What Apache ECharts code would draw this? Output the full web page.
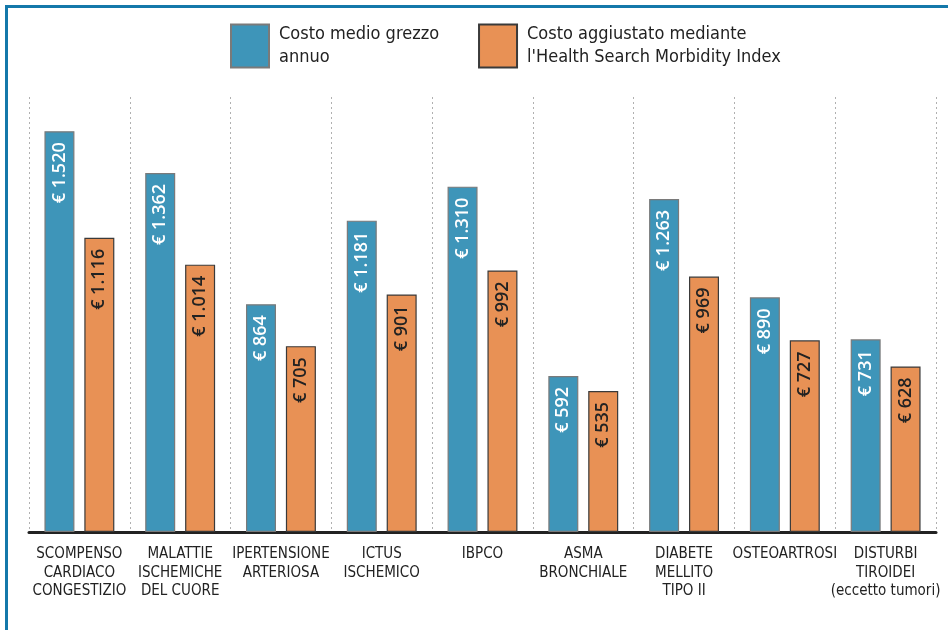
<!DOCTYPE html>
<html>
<head>
<meta charset="utf-8">
<script src="https://cdn.jsdelivr.net/npm/echarts@6/dist/echarts.min.js"></script>
<style>html,body{margin:0;padding:0;background:#fff}#c{width:948px;height:630px}</style>
</head>
<body>
<div id="c"></div>
<script>
const categories = ['SCOMPENSO\nCARDIACO\nCONGESTIZIO', 'MALATTIE\nISCHEMICHE\nDEL CUORE', 'IPERTENSIONE\nARTERIOSA', 'ICTUS\nISCHEMICO', 'IBPCO', 'ASMA\nBRONCHIALE', 'DIABETE\nMELLITO\nTIPO II', 'OSTEOARTROSI', 'DISTURBI\nTIROIDEI\n(eccetto tumori)'];
const rawCost = [1520, 1362, 864, 1181, 1310, 592, 1263, 890, 731];
const adjustedCost = [1116, 1014, 705, 901, 992, 535, 969, 727, 628];
const seriesNames = ['Costo medio grezzo\nannuo', "Costo aggiustato mediante\nl'Health Search Morbidity Index"];

const narrow = '"Liberation Sans Narrow", "DejaVu Sans Condensed", sans-serif';
function fmt(v) {
  return '€ ' + String(v).replace(/\B(?=(\d{3})+(?!\d))/g, '.');
}
const chart = echarts.init(document.getElementById('c'));
chart.setOption({
  animation: false,
  backgroundColor: '#fff',
  legend: {
    left: 230, top: 23, padding: 0,
    icon: 'rect',
    itemWidth: 38, itemHeight: 43, itemGap: 39,
    textStyle: { fontFamily: narrow, fontSize: 18, color: '#222', lineHeight: 23, padding: [0, 0, 0, 5] },
    data: seriesNames
  },
  grid: { left: 29, right: 12, top: 97, bottom: 98 },
  xAxis: {
    type: 'category',
    data: categories,
    axisLine: { lineStyle: { color: '#222', width: 3 } },
    axisTick: { show: false },
    axisLabel: { interval: 0, fontFamily: narrow, fontSize: 15, color: '#222', lineHeight: 18.5, margin: 13 },
    splitLine: { show: true, lineStyle: { color: '#b0b0b0', type: [2, 3], width: 1 } }
  },
  yAxis: { type: 'value', min: 0, max: 1650, show: false, splitLine: { show: false } },
  series: [
    {
      name: seriesNames[0], type: 'bar', data: rawCost, barWidth: 30, barGap: '33%',
      itemStyle: { color: '#3e95b9', borderColor: '#7a7a7a', borderWidth: 1.2 },
      label: { show: true, position: 'insideTop', rotate: 90, align: 'right', verticalAlign: 'middle', distance: 11,
        formatter: p => fmt(p.value), color: '#fff', fontFamily: '"Open Sans", sans-serif', fontWeight: 600, fontSize: 18 }
    },
    {
      name: seriesNames[1], type: 'bar', data: adjustedCost, barWidth: 30,
      itemStyle: { color: '#e89155', borderColor: '#3a3a3a', borderWidth: 1.2 },
      label: { show: true, position: 'insideTop', rotate: 90, align: 'right', verticalAlign: 'middle', distance: 11,
        formatter: p => fmt(p.value), color: '#222', fontFamily: '"Open Sans", sans-serif', fontWeight: 600, fontSize: 18 }
    }
  ],
  graphic: [
    { type: 'line', shape: { x1: 5, y1: 6.5, x2: 948, y2: 6.5 }, style: { stroke: '#1478aa', lineWidth: 3 } },
    { type: 'line', shape: { x1: 6.5, y1: 5, x2: 6.5, y2: 630 }, style: { stroke: '#1478aa', lineWidth: 3 } }
  ]
});
</script>
</body>
</html>
